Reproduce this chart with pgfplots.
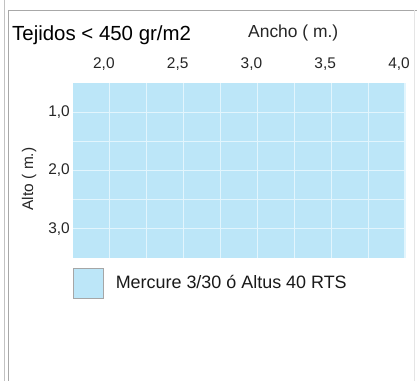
\documentclass[border=0pt]{standalone}
\usepackage{pgfplots}
\pgfplotsset{compat=1.18}
\usepackage{fontspec}
\setmainfont{Liberation Sans}
\definecolor{cellblue}{HTML}{BCE6F8}
\definecolor{gridw}{HTML}{E2F5FD}
\definecolor{frame}{HTML}{A8A8A8}
\begin{document}
\begin{tikzpicture}
\useasboundingbox (0,0) rectangle (417bp,-381bp);
\fill[white] (0,0) rectangle (417bp,-381bp);
\draw[frame!70, line width=0.9bp] (4bp,0) -- (4bp,-381bp);
\draw[frame, line width=1bp] (8bp,-381bp) -- (8bp,-10bp) -- (417bp,-10bp);
\draw[frame!30, line width=0.8bp] (414bp,-10bp) -- (414bp,-381bp);
\begin{axis}[
  at={(73bp,-83bp)}, anchor=north west,
  scale only axis, width=332bp, height=175bp,
  xmin=1.75, xmax=4, ymin=0.5, ymax=3.5, y dir=reverse,
  axis on top,
  axis line style={draw=none},
  tick style={draw=none},
  xtick pos=upper, xticklabel pos=upper,
  xtick={2,2.5,3,3.5,4}, minor xtick={2.25,2.75,3.25,3.75},
  ytick={1,2,3}, minor ytick={1.5,2.5},
  grid=both,
  major grid style={draw=gridw, line width=1.1bp},
  minor grid style={draw=gridw, line width=1.1bp},
  /pgf/number format/.cd, use comma, fixed, fixed zerofill, precision=1, assume math mode=true,
  /pgfplots/.cd,
  ticklabel style={font=\fontsize{15.5}{18}\selectfont, text=black!85},
  xticklabel style={anchor=base, inner sep=0pt, yshift=15bp, xshift=-6bp},
  yticklabel style={anchor=east, inner sep=0pt, xshift=-3bp},
  legend style={at={(axis cs:1.75,3.93)}, anchor=west, draw=none, fill=none, inner sep=0pt,
    font=\fontsize{18}{21}\selectfont, text=black!90},
  legend cell align=left,
  legend image code/.code={\draw[draw=black!35, fill=cellblue, line width=0.6bp] (0bp,-15bp) rectangle (30bp,15bp);},
]
\addplot[fill=cellblue, draw=none] coordinates {(1.75,0.5) (4,0.5) (4,3.5) (1.75,3.5) (1.75,0.5)} -- cycle;
\addlegendentry{\hspace{10bp}Mercure 3/30 ó Altus 40 RTS}
\end{axis}
\node[anchor=base west, inner sep=0pt, font=\fontsize{20.5}{23}\selectfont] at (12bp,-40bp) {Tejidos < 450 gr/m2};
\node[anchor=base west, inner sep=0pt, font=\fontsize{17.5}{20}\selectfont, text=black!85] at (248bp,-37bp) {Ancho ( m.)};
\node[anchor=base, inner sep=0pt, rotate=90, font=\fontsize{15.5}{18}\selectfont, text=black!85] at (33bp,-179bp) {Alto ( m.)};
\end{tikzpicture}
\end{document}
